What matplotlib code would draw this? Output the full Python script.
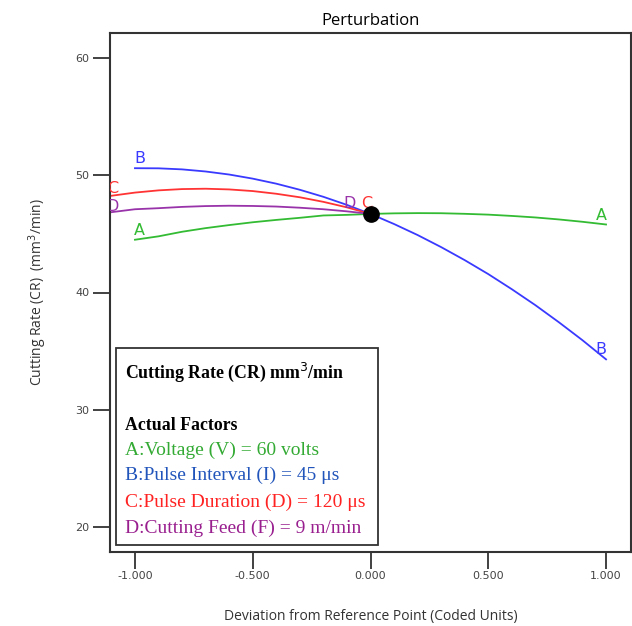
import numpy as np
import matplotlib.pyplot as plt
from matplotlib.patches import Rectangle

# coded deviation from the reference point
x_ab = [-1.0, -0.9, -0.8, -0.7, -0.6, -0.5, -0.4, -0.3, -0.2, -0.1, 0.0,
        0.1, 0.2, 0.3, 0.4, 0.5, 0.6, 0.7, 0.8, 0.9, 1.0]
x_cd = [-1.1, -1.0, -0.9, -0.8, -0.7, -0.6, -0.5, -0.4, -0.3, -0.2, -0.1, 0.0]

# cutting rate (mm3/min) along each factor
cr_a = [44.50, 44.79, 45.18, 45.49, 45.75, 45.99, 46.19, 46.37, 46.57, 46.62, 46.70,
        46.75, 46.77, 46.76, 46.71, 46.64, 46.53, 46.40, 46.23, 46.03, 45.80]
cr_b = [50.60, 50.59, 50.50, 50.32, 50.06, 49.71, 49.28, 48.76, 48.16, 47.47, 46.70,
        45.84, 44.90, 43.87, 42.76, 41.57, 40.28, 38.92, 37.46, 35.93, 34.30]
cr_c = [48.25, 48.52, 48.71, 48.82, 48.85, 48.79, 48.65, 48.42, 48.12, 47.73, 47.26, 46.70]
cr_d = [46.85, 47.10, 47.19, 47.30, 47.37, 47.40, 47.38, 47.33, 47.23, 47.10, 46.92, 46.70]

ref_x = 0.0
ref_cr = 46.70

factor_names = ["A:Voltage (V) = 60 volts",
                "B:Pulse Interval (I) = 45 \u03bcs",
                "C:Pulse Duration (D) = 120 \u03bcs",
                "D:Cutting Feed (F) = 9 m/min"]

line_colors = ["#33bb33", "#3a3aff", "#ff3333", "#9933aa"]
text_colors = ["#33aa33", "#2255bb", "#ff2222", "#991f8f"]

fig = plt.figure(figsize=(6.32, 6.26), dpi=100)
ax = fig.add_axes([110 / 632, 1 - 552 / 626, 521 / 632, 519 / 626])

ax.plot(x_ab, cr_a, color=line_colors[0], lw=1.3)
ax.plot(x_ab, cr_b, color=line_colors[1], lw=1.3)
ax.plot(x_cd, cr_c, color=line_colors[2], lw=1.3)
ax.plot(x_cd, cr_d, color=line_colors[3], lw=1.3)
ax.plot([ref_x], [ref_cr], "o", color="black", ms=11, zorder=5)

# curve labels
lab = dict(fontsize=11.5, family="DejaVu Sans", ha="center", va="center", clip_on=True)
ax.text(-0.98, 51.45, "B", color=line_colors[1], **lab)
ax.text(-0.98, 45.3, "A", color=line_colors[0], **lab)
ax.text(0.98, 46.6, "A", color=line_colors[0], **lab)
ax.text(0.98, 35.1, "B", color=line_colors[1], **lab)
ax.text(-0.087, 47.6, "D", color=line_colors[3], **lab)
ax.text(-0.015, 47.55, "C", color=line_colors[2], **lab)
ax.text(-1.095, 48.85, "C", color=line_colors[2], **lab)
ax.text(-1.095, 47.3, "D", color=line_colors[3], **lab)

ax.set_xlim(-1.106, 1.106)
ax.set_ylim(17.87, 62.13)
ax.set_xticks([-1.0, -0.5, 0.0, 0.5, 1.0])
ax.set_xticklabels(["-1.000", "-0.500", "0.000", "0.500", "1.000"])
ax.set_yticks([20, 30, 40, 50, 60])
ax.tick_params(length=12, width=1.3, color="#333333", labelsize=8,
               labelcolor="#444444")
ax.tick_params(axis="x", pad=2)
ax.tick_params(axis="y", pad=3)
for s in ax.spines.values():
    s.set_linewidth(1.5)
    s.set_color("#333333")

ax.set_title("Perturbation", fontsize=12, family="Open Sans", pad=6)
ax.set_xlabel("Deviation from Reference Point (Coded Units)", fontsize=10,
              family="Open Sans", color="#333333", labelpad=20)
ax.set_ylabel("Cutting Rate (CR)  (mm$^3$/min)", fontsize=10,
              family="Open Sans", color="#333333", labelpad=19)

# factor settings box
bx0, bx1 = (116 - 110) / 521, (378 - 110) / 521
by0, by1 = (552 - 545) / 519, (552 - 348) / 519
ax.add_patch(Rectangle((bx0, by0), bx1 - bx0, by1 - by0, transform=ax.transAxes,
                       facecolor="white", edgecolor="#333333", lw=1.3, zorder=6))
tx = (125 - 110) / 521
serif = "Liberation Serif"
ax.text(tx, (552 - 378) / 519, "Cutting Rate (CR) mm$^3$/min", transform=ax.transAxes,
        fontsize=12.8, fontweight="bold", family=serif, va="baseline", zorder=7)
ax.text(tx, (552 - 430) / 519, "Actual Factors", transform=ax.transAxes,
        fontsize=12.8, fontweight="bold", family=serif, va="baseline", zorder=7)
for name, col, yb in zip(factor_names, text_colors, [455, 480, 507, 533]):
    ax.text(tx, (552 - yb) / 519, name, transform=ax.transAxes, color=col,
            fontsize=14, family=serif, va="baseline", zorder=7)

fig.savefig("out.png", dpi=100)
